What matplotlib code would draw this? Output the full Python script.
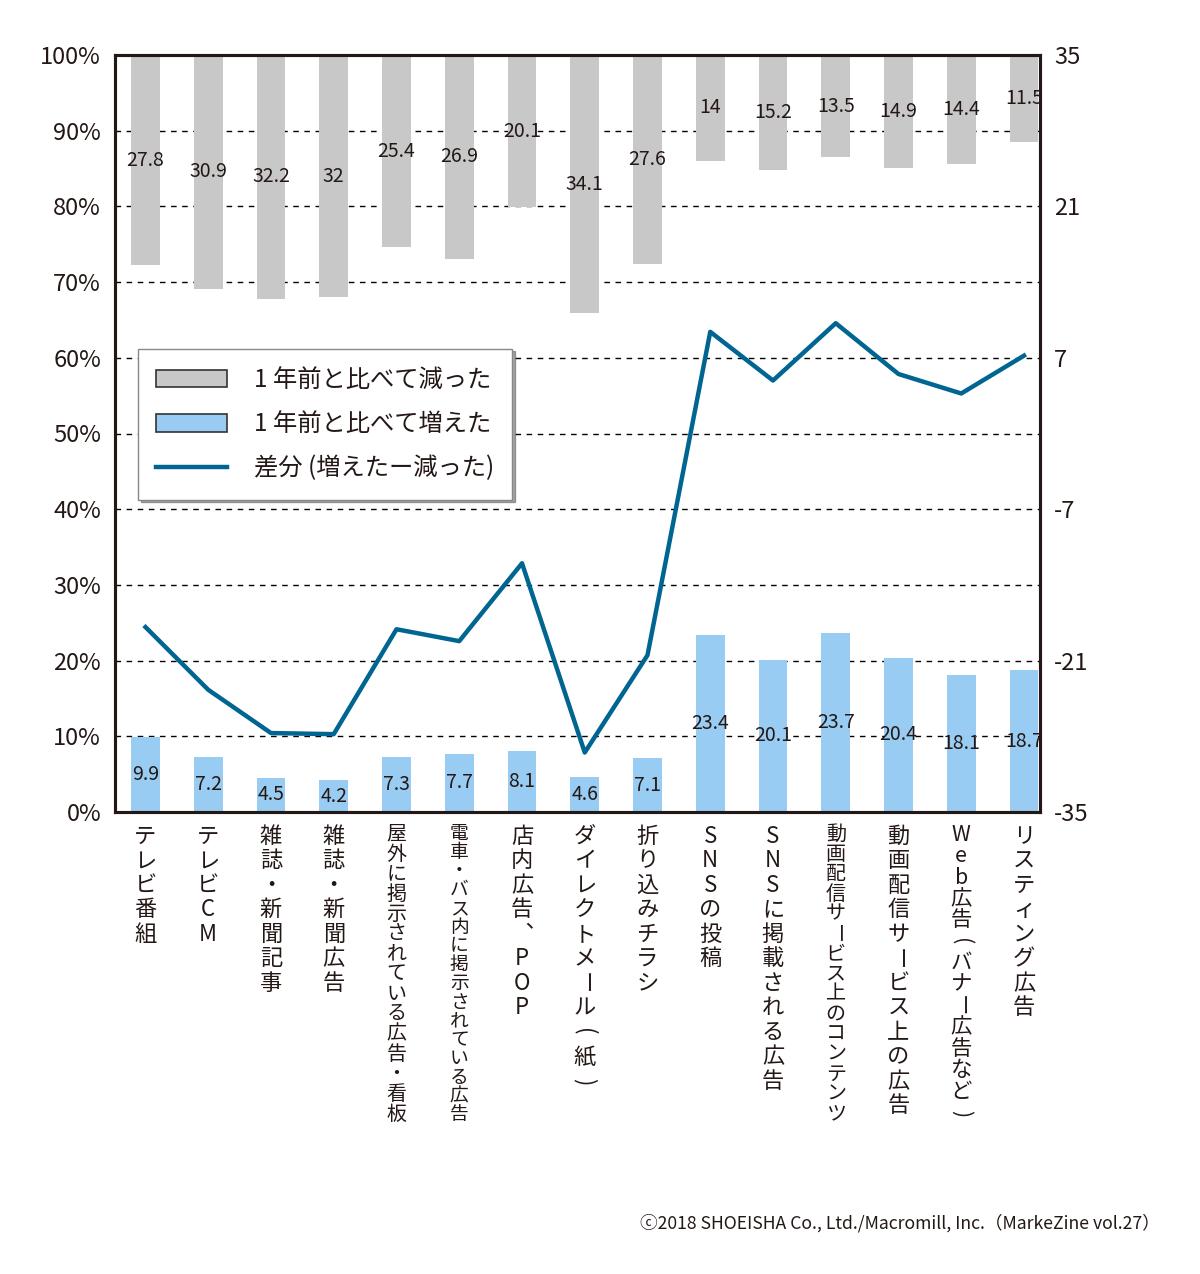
import matplotlib
matplotlib.use("Agg")
import matplotlib.pyplot as plt
from matplotlib.patches import Patch
from matplotlib.lines import Line2D
import numpy as np

plt.rcParams["font.family"] = ["Noto Sans CJK JP", "DejaVu Sans"]
plt.rcParams["axes.unicode_minus"] = False

# ---------------- data ----------------
categories = [
    "テレビ番組", "テレビCM", "雑誌・新聞記事", "雑誌・新聞広告",
    "屋外に掲示されている広告・看板", "電車・バス内に掲示されている広告",
    "店内広告、POP", "ダイレクトメール（紙）", "折り込みチラシ",
    "SNSの投稿", "SNSに掲載される広告", "動画配信サービス上のコンテンツ",
    "動画配信サービス上の広告", "Web広告（バナー広告など）", "リスティング広告",
]
decreased = [27.8, 30.9, 32.2, 32, 25.4, 26.9, 20.1, 34.1, 27.6,
             14, 15.2, 13.5, 14.9, 14.4, 11.5]
increased = [9.9, 7.2, 4.5, 4.2, 7.3, 7.7, 8.1, 4.6, 7.1,
             23.4, 20.1, 23.7, 20.4, 18.1, 18.7]
difference = [-17.9, -23.7, -27.7, -27.8, -18.1, -19.2, -12.0, -29.5, -20.5,
              9.4, 4.9, 10.2, 5.5, 3.7, 7.2]

left_ticks = [0, 10, 20, 30, 40, 50, 60, 70, 80, 90, 100]
right_ticks = [-35, -21, -7, 7, 21, 35]

legend_labels = ["1 年前と比べて減った", "1 年前と比べて増えた", "差分 (増えたー減った)"]
footer = "ⓒ2018 SHOEISHA Co., Ltd./Macromill, Inc.（MarkeZine vol.27）"

gray = "#c8c8c9"
blue = "#99ccf2"
line_col = "#006591"
ink = "#231815"
num_font = ["Liberation Sans Narrow", "Noto Sans CJK JP"]

# ---------------- figure ----------------
fig = plt.figure(figsize=(12, 12.74), dpi=100)
ax = fig.add_axes([115 / 1200, 1 - 812 / 1274, 925 / 1200, 757 / 1274])
x = np.arange(len(categories))
w = 0.46

ax.bar(x, decreased, width=w, bottom=[100 - d for d in decreased], color=gray, zorder=2)
ax.bar(x, increased, width=w, color=blue, zorder=2)

for i, d in enumerate(decreased):
    ax.text(i, 100 - d / 2, f"{d:g}", ha="center", va="center",
            fontsize=14, family=num_font, color=ink, zorder=4)
for i, v in enumerate(increased):
    ax.text(i, v / 2, f"{v:g}", ha="center", va="center",
            fontsize=14, family=num_font, color=ink, zorder=4)

ax.set_xlim(-0.486, 14.255)
ax.set_ylim(0, 100)
ax.set_yticks(left_ticks)
ax.set_yticklabels([f"{t}%" for t in left_ticks])
ax.set_xticks([])
ax.tick_params(axis="y", length=0, pad=10, labelsize=17, labelcolor=ink)
ax.set_axisbelow(True)
ax.grid(axis="y", color="black", linestyle=(0, (4, 4)), linewidth=1.0)
for s in ax.spines.values():
    s.set_linewidth(2.2)
    s.set_color(ink)

ax2 = ax.twinx()
ax2.plot(x, difference, color=line_col, linewidth=3.2, zorder=3)
ax2.set_ylim(-35, 35)
ax2.set_yticks(right_ticks)
ax2.tick_params(axis="y", length=0, pad=10, labelsize=17, labelcolor=ink)
for s in ax2.spines.values():
    s.set_linewidth(2.2)
    s.set_color(ink)

# ---------------- vertical category labels ----------------
rotate_chars = {"（": "(", "）": ")", "ー": "ー"}
vert_map = {"、": "︑"}
for i, label in enumerate(categories):
    pitch = min(24.5, 300 / len(label))
    fs = min(16, pitch * 0.72)
    for k, ch in enumerate(label):
        rot = 0
        if ch in rotate_chars:
            ch = rotate_chars[ch]
            rot = -90
        ch = vert_map.get(ch, ch)
        ax.annotate(ch, xy=(i, 0), xycoords=ax.get_xaxis_transform(),
                    xytext=(0, -(12 + k * pitch + pitch / 2)),
                    textcoords="offset pixels", ha="center", va="center",
                    rotation=rot, fontsize=fs, color=ink, annotation_clip=False)

# ---------------- legend ----------------
handles = [
    Patch(facecolor=gray, edgecolor="#333333", linewidth=1.2),
    Patch(facecolor=blue, edgecolor="#333333", linewidth=1.2),
    Line2D([0], [0], color=line_col, linewidth=3.2),
]
leg = ax2.legend(handles, legend_labels, loc="upper left",
                 bbox_to_anchor=(0.025, 0.612), fontsize=17.5,
                 handlelength=2.9, handleheight=0.75, handletextpad=1.1,
                 labelspacing=0.75, borderpad=0.75, borderaxespad=0,
                 fancybox=False, shadow=True, framealpha=1,
                 edgecolor="#888888")
leg.get_frame().set_linewidth(1.0)
for t in leg.get_texts():
    t.set_color(ink)

fig.text(1160 / 1200, 1 - 1223 / 1274, footer, ha="right", va="center",
         fontsize=12.7, color=ink)

fig.savefig("out.png", dpi=100)
